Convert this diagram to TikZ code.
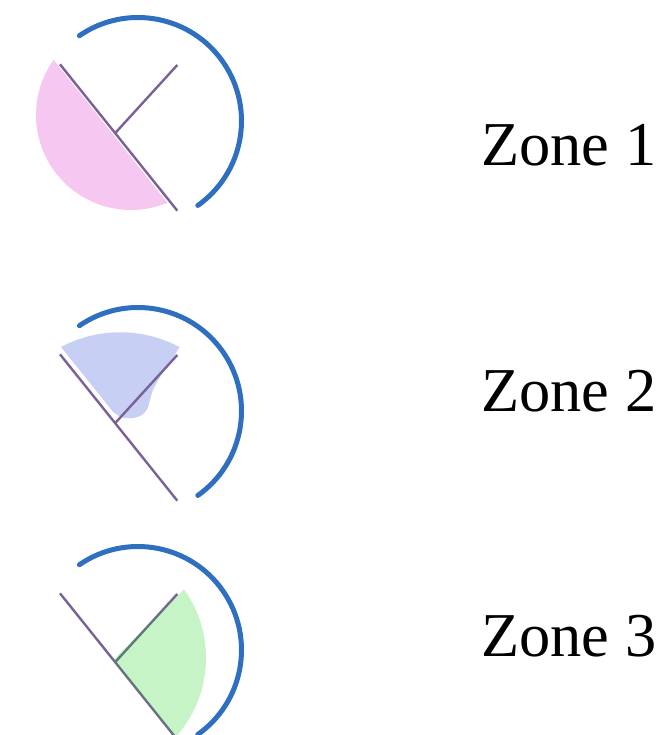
\documentclass[tikz,border=0pt]{standalone}
\usepackage{fontspec}
\setmainfont{Liberation Serif}
\definecolor{dialblue}{RGB}{47,111,191}
\definecolor{handpurple}{RGB}{122,98,152}
\definecolor{pinkfill}{RGB}{246,200,241}
\definecolor{bluefill}{RGB}{199,207,245}
\definecolor{greenfill}{RGB}{0,205,0}
\begin{document}
\begin{tikzpicture}[x=1pt,y=-1pt,
  dial/.style={draw=dialblue, line width=5pt, line cap=round},
  hand/.style={draw=handpurple, line width=2.4pt},
  zonelabel/.style={font=\fontsize{62.4}{68}\selectfont, anchor=base west, inner sep=0pt},
  clockface/.pic={
    % outer dial, open at the lower left
    \draw[dial] (138,121) ++(235.5:103.5) arc[start angle=235.5, end angle=414.7, radius=103.5];
    % the two hands
    \draw[hand] (60,64.3) -- (177.3,210.7);
    \draw[hand] (115,133.3) -- (177.3,65);
  }]
\clip (0,0) rectangle (669,735);

% ---- zone 1: segment below the long hand
\begin{scope}
  \clip (-59,-82) -- (277,341) -- (-59,341) -- cycle;
  \fill[pinkfill] (131,115) circle[radius=95];
\end{scope}
\pic at (0,0) {clockface};

% ---- zone 2: wedge between the hands
\fill[bluefill] (61,347) arc[start angle=242.0, end angle=298.2, radius=126]
  -- plot[smooth, tension=0.6] coordinates {(180,346) (170,363) (160,377) (153,390)
     (150,400) (146.7,410) (140,416) (130,418.3) (121,417) (113,411.7)} -- cycle;
\pic at (0,290) {clockface};

% ---- zone 3: sector to the right of the hands
\pic at (0,529) {clockface};
\fill[greenfill, fill opacity=0.22] (113,660) -- (184,589.3)
  arc[start angle=-35.6, end angle=42.5, radius=118] -- cycle;

% ---- labels
\node[zonelabel] (z1) at (481,166) {Zone 1};
\node[zonelabel] (z2) at (481,411) {Zone 2};
\node[zonelabel] (z3) at (481,656) {Zone 3};
\end{tikzpicture}
\end{document}
